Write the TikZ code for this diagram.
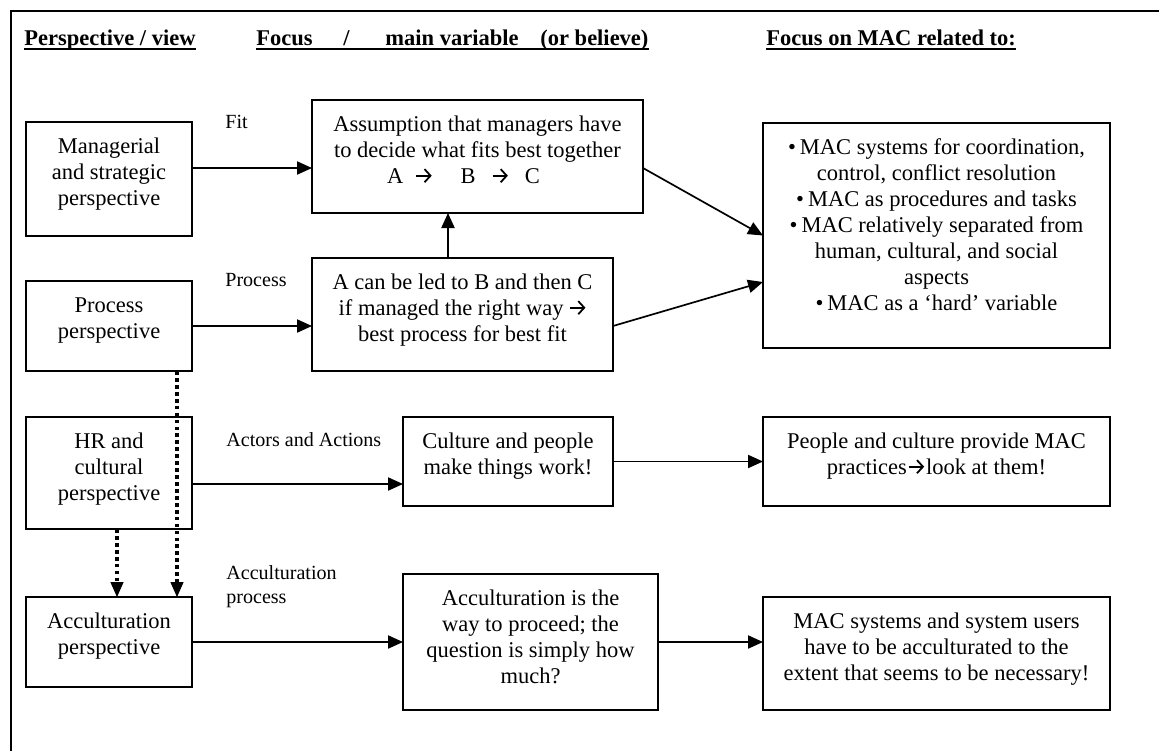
\documentclass[tikz,border=0pt]{standalone}
\usepackage{fontspec}
\setmainfont{Liberation Serif}
\usetikzlibrary{arrows.meta}

% one drawing unit
\newlength\pxu
\setlength\pxu{0.5333pt}

% heavy arrow used inside the texts
\newcommand\warr{\tikz[baseline=0pt,x=1pt,y=1pt]\draw[line width=0.95pt,-{Straight Barb[length=3.2pt,width=7pt,line width=0.95pt]}] (0,3.9)--(8.2,3.9);}

% top-aligned, centred box text: width, height, lines
\newcommand\boxtxt[3]{\parbox[c][#2\pxu][t]{#1\pxu}{\fontsize{12pt}{26\pxu}\selectfont\centering\rule{0pt}{31\pxu}#3\par}}

\begin{document}
\begin{tikzpicture}[x=0.5333pt,y=-0.5333pt,
  box/.style={draw, line width=0.9pt, inner sep=0pt, outer sep=0pt},
  arr/.style={line width=0.9pt, -{Triangle[length=8pt,width=7pt]}},
  dotarr/.style={line width=1.9pt, dash pattern=on 2pt off 1.7pt,
                 -{Triangle[length=8pt,width=7pt,line width=0.5pt]}},
  lbl/.style={anchor=base west, inner sep=0pt, font=\fontsize{10.7pt}{12.8pt}\selectfont},
  hdr/.style={anchor=base west, inner sep=0pt, font=\bfseries\fontsize{12pt}{14pt}\selectfont},
  uline/.style={line width=1.1pt}]

\useasboundingbox (0,0) rectangle (1159,750);
\fill[white] (0,0) rectangle (1159,750);
\clip (0,0) rectangle (1159,750);

% outer frame (runs past the right and bottom edges)
\draw[line width=0.9pt] (11,11) rectangle (1180,770);

% column headings
\node[hdr] (h1)  at (24,45)  {Perspective / view};
\node[hdr] (h2a) at (256,45) {Focus};
\node[hdr] (h2b) at (343,45) {/};
\node[hdr] (h2c) at (385,45) {main variable};
\node[hdr] (h2d) at (540,45) {(or believe)};
\node[hdr] (h3)  at (766,45) {Focus on MAC related to:};
\draw[uline] ([yshift=-2pt]h1.base west) -- ([yshift=-2pt]h1.base east);
\draw[uline] ([yshift=-2pt]h2a.base west) -- ([yshift=-2pt]h2d.base east);
\draw[uline] ([yshift=-2pt]h3.base west) -- ([yshift=-2pt]h3.base east);

% perspectives
\node[box] (mgr)  at (109,179) {\boxtxt{166}{114}{Managerial\\and strategic\\perspective}};
\node[box] (proc) at (109,326) {\boxtxt{166}{90}{Process\\perspective}};
\node[box] (hr)   at (109,473) {\boxtxt{166}{112}{HR and\\cultural\\perspective}};
\node[box] (acc)  at (109,642) {\boxtxt{166}{90}{Acculturation\\perspective}};

% focus / main variable
\node[box] (assume) at (477.5,156.5) {\boxtxt{331}{113}{Assumption that managers have\\to decide what fits best together\\A\hspace{12\pxu}\warr\hspace{28\pxu}B\hspace{16\pxu}\warr\hspace{16\pxu}C\hspace*{28\pxu}}};
\node[box] (abox) at (462.5,314.5) {\boxtxt{301}{113}{A can be led to B and then C\\if managed the right way \warr\\best process for best fit}};
\node[box] (culture) at (508,461.5) {\boxtxt{210}{89}{Culture and people\\make things work!}};
\node[box] (accis) at (530.5,642) {\boxtxt{255}{136}{Acculturation is the\\way to proceed; the\\question is simply how\\much?}};

% focus on MAC
\node[box] (mac) at (936.5,235.5) {\boxtxt{347}{225}{•\hspace{4\pxu}MAC systems for coordination,\\control, conflict resolution\\•\hspace{4\pxu}MAC as procedures and tasks\\•\hspace{4\pxu}MAC relatively separated from\\human, cultural, and social\\aspects\\•\hspace{4\pxu}MAC as a ‘hard’ variable}};
\node[box] (people) at (936.5,461.5) {\boxtxt{347}{89}{People and culture provide MAC\\practices\hspace{1\pxu}\warr\hspace{1\pxu}look at them!}};
\node[box] (users) at (936.5,653.5) {\boxtxt{347}{113}{MAC systems and system users\\have to be acculturated to the\\extent that seems to be necessary!}};

% connector labels
\node[lbl] (lfit)  at (225,128) {Fit};
\node[lbl] (lproc) at (225,286) {Process};
\node[lbl] (lact)  at (226,446) {Actors and Actions};
\node[lbl] (lacc1) at (226,579) {Acculturation};
\node[lbl] (lacc2) at (226,603) {process};

% levels and columns of the connectors
\coordinate (yfit) at (0,168);
\coordinate (yhr)  at (0,484);
\coordinate (ymac) at (0,282);
\coordinate (xup)  at (448,0);
\coordinate (xd1)  at (177,0);
\coordinate (xd2)  at (117,0);

% solid connectors
\draw[arr] (mgr.east |- yfit) -- (assume.west |- yfit);
\draw[arr] (proc.east) -- (abox.west |- proc.east);
\draw[arr] (hr.east |- yhr) -- (culture.west |- yhr);
\draw[arr] (acc.east) -- (accis.west);
\draw[arr] (abox.north -| xup) -- (assume.south -| xup);
\draw[arr] (assume.east |- yfit) -- (mac.west);
\draw[arr] (abox.east |- proc.east) -- (mac.west |- ymac);
\draw[arr] (culture.east) -- (people.west);
\draw[arr] (accis.east) -- (users.west |- accis.east);

% dotted connectors
\draw[dotarr] (proc.south -| xd1) -- (acc.north -| xd1);
\draw[dotarr] (hr.south -| xd2) -- (acc.north -| xd2);

\end{tikzpicture}
\end{document}
